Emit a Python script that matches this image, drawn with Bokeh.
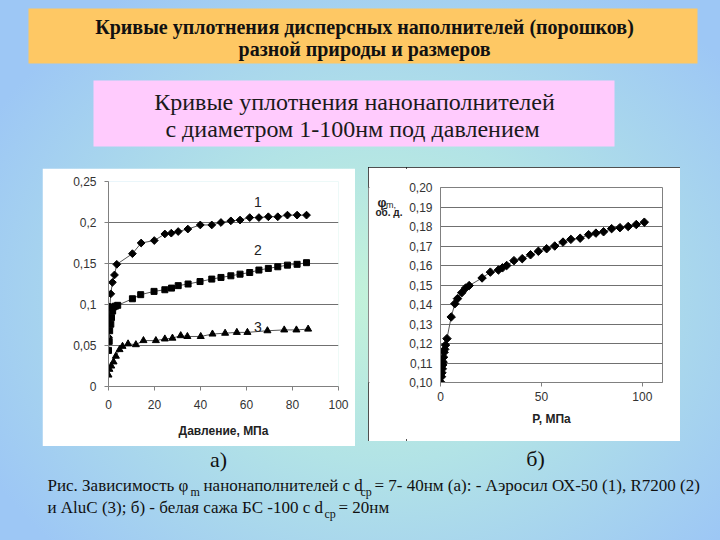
import numpy as np
from bokeh.plotting import figure
from bokeh.models import Range1d, FixedTicker, Spacer, Label, CustomJSTickFormatter
from bokeh.layouts import column, row
from bokeh.embed import file_html
from bokeh.resources import INLINE
from bokeh.core.properties import value

# ---------------- data: chart a) ----------------
a_xticks = [0, 20, 40, 60, 80, 100]
a_yticks = [0, 0.05, 0.1, 0.15, 0.2, 0.25]
a1_x = [0.0, 0.3, 0.6, 1.0, 1.7, 2.6, 3.6, 10.4, 14.2, 19.9, 24.5, 27.3, 30.3, 34.5,
        39.9, 44.9, 48.9, 53.2, 57.2, 61.4, 65.4, 69.5, 73.6, 77.8, 82.0, 86.1]
a1_y = [0.060, 0.078, 0.097, 0.113, 0.127, 0.136, 0.149, 0.162, 0.175, 0.178, 0.186,
        0.187, 0.189, 0.192, 0.197, 0.197, 0.200, 0.202, 0.203, 0.206, 0.206, 0.207,
        0.207, 0.209, 0.209, 0.209]
a2_x = [0.0, 0.3, 0.5, 1.0, 1.3, 1.8, 2.2, 3.0, 4.0, 10.4, 14.0, 19.8, 24.5, 27.4,
        30.3, 34.6, 39.8, 44.9, 48.9, 53.2, 57.2, 61.4, 65.4, 69.5, 73.6, 77.8, 82.0, 86.1]
a2_y = [0.044, 0.055, 0.068, 0.076, 0.084, 0.092, 0.097, 0.098, 0.099, 0.107, 0.112,
        0.116, 0.118, 0.120, 0.123, 0.125, 0.128, 0.131, 0.133, 0.135, 0.137, 0.139,
        0.142, 0.144, 0.146, 0.148, 0.149, 0.151]
a3_x = [0.0, 0.4, 1.2, 2.2, 3.2, 4.8, 6.1, 8.5, 11.9, 15.2, 20.6, 24.5, 27.8, 31.4,
        34.3, 40.1, 45.2, 50.7, 55.8, 60.4, 69.1, 76.4, 81.7, 86.8]
a3_y = [0.014, 0.021, 0.025, 0.030, 0.037, 0.045, 0.049, 0.052, 0.051, 0.056, 0.056,
        0.058, 0.059, 0.062, 0.061, 0.061, 0.064, 0.065, 0.066, 0.066, 0.068, 0.069,
        0.069, 0.070]
a_series_names = ["1", "2", "3"]

# ---------------- data: chart б) ----------------
b_xticks = [0, 50, 100]
b_yticks = [0.10, 0.11, 0.12, 0.13, 0.14, 0.15, 0.16, 0.17, 0.18, 0.19, 0.20]
b_x = [0, 0.5, 0.7, 0.9, 1.1, 1.3, 1.5, 1.8, 2.1, 2.5, 3.2, 5.3, 7.1, 8.4, 10.5, 12.4,
       14.2, 20.6, 24.7, 28.7, 30.7, 32.8, 36.4, 40.5, 44.6, 48.5, 52.6, 56.6, 60.7,
       64.6, 69.2, 73.4, 77.0, 80.8, 84.8, 88.9, 93.0, 97.0, 101.0]
b_y = [0.1003, 0.1030, 0.1050, 0.1070, 0.1090, 0.1105, 0.1130, 0.1155, 0.1170, 0.1192,
       0.1225, 0.1336, 0.1404, 0.1430, 0.1460, 0.1484, 0.1497, 0.1536, 0.1566, 0.1577,
       0.1588, 0.1600, 0.1625, 0.1635, 0.1655, 0.1673, 0.1686, 0.1700, 0.1720, 0.1734,
       0.1740, 0.1758, 0.1766, 0.1773, 0.1789, 0.1794, 0.1800, 0.1810, 0.1822]

# ---------------- texts ----------------
title1 = "Кривые уплотнения дисперсных наполнителей (порошков)"
title2 = "разной природы и размеров"
sub1 = "Кривые уплотнения нанонаполнителей"
sub2 = "с диаметром 1-100нм под давлением"

SANS = "Liberation Sans"
SERIF = "Liberation Serif"
AX = "#808080"


def blank(w, h, x0, x1, y0, y1, fill=None):
    p = figure(width=w, height=h, x_range=Range1d(x0, x1), y_range=Range1d(y1, y0),
               output_backend="svg", toolbar_location=None,
               x_axis_type=None, y_axis_type=None, min_border=0)
    p.grid.visible = False
    p.outline_line_color = None
    if fill is None:
        p.background_fill_alpha = 0
        p.border_fill_alpha = 0
    else:
        p.background_fill_color = fill
        p.border_fill_color = fill
    return p


# ---------------- header ----------------
top = blank(720, 167, 0, 720, 0, 167)
top.quad(left=[28], right=[697], top=[8], bottom=[63], fill_color="#fec864", line_color=None)
top.quad(left=[93], right=[614], top=[80], bottom=[146], fill_color="#ffcbfd", line_color=None)
top.text(x=[364, 364], y=[26, 48], text=[title1, title2], text_align="center",
         text_baseline="middle", text_font=value(SERIF), text_font_style="bold",
         text_font_size="20px", text_color="#111111")
top.text(x=[354, 352], y=[101, 128], text=[sub1, sub2], text_align="center",
         text_baseline="middle", text_font=value(SERIF), text_font_size="24px",
         text_color="#1a1a1a")


def style_axis(ax):
    ax.axis_line_color = AX
    ax.major_tick_line_color = AX
    ax.major_tick_out = 4
    ax.major_tick_in = 0
    ax.minor_tick_line_color = None
    ax.major_label_text_font = SANS
    ax.major_label_text_font_size = "12px"
    ax.major_label_text_color = "#333333"
    ax.axis_label_text_font = SANS
    ax.axis_label_text_font_style = "bold"
    ax.axis_label_text_font_size = "12px"
    ax.axis_label_text_color = "#222222"


# ---------------- chart a ----------------
pa = figure(width=313, height=278, x_range=Range1d(0, 100), y_range=Range1d(0, 0.25),
            output_backend="svg", toolbar_location=None,
            min_border_left=66, min_border_right=17, min_border_top=13, min_border_bottom=60)
pa.background_fill_color = "white"
pa.border_fill_color = "white"
pa.outline_line_color = None
pa.xgrid.visible = False
pa.ygrid.ticker = FixedTicker(ticks=a_yticks[1:-1])
pa.ygrid.grid_line_color = "#707070"
pa.xaxis.ticker = FixedTicker(ticks=a_xticks)
pa.yaxis.ticker = FixedTicker(ticks=a_yticks)
pa.yaxis.formatter = CustomJSTickFormatter(
    code="return String(parseFloat(tick.toFixed(2))).replace('.', ',');")
style_axis(pa.xaxis[0])
style_axis(pa.yaxis[0])
pa.xaxis.axis_label = "Давление, МПа"
pa.xaxis.major_label_standoff = 9
pa.xaxis.axis_label_standoff = 12
pa.yaxis.major_label_standoff = 8

for xs, ys, mk, sz, ang in [(a1_x, a1_y, "square", 5.5, np.pi / 4),
                            (a2_x, a2_y, "square", 6, 0),
                            (a3_x, a3_y, "triangle", 7, 0)]:
    pa.line(xs, ys, line_color="#555555", line_width=1)
    pa.scatter(xs, ys, marker=mk, size=sz, angle=ang, fill_color="black",
               line_color="black")

for name, ys, dy in zip(a_series_names, [a1_y, a2_y, a3_y], [0.0105, 0.0095, -0.0035]):
    pa.add_layout(Label(x=65, y=ys[-1] + dy, text=name, text_font=SANS,
                        text_font_size="14px", text_color="#222222",
                        text_align="center", text_baseline="bottom"))

# ---------------- chart b ----------------
pb_left = blank(38, 274, 368, 406, 167, 441, fill="white")
pb_left.text(x=[377], y=[189], text=["φ"], text_align="left", text_baseline="middle",
             text_font=value(SANS), text_font_style="bold", text_font_size="12.5px",
             text_color="#222222")
pb_left.text(x=[385.5], y=[192], text=["m,"], text_align="left", text_baseline="middle",
             text_font=value(SANS), text_font_size="9px", text_color="#222222")
pb_left.text(x=[375], y=[202], text=["об. д."], text_align="left", text_baseline="middle",
             text_font=value(SANS), text_font_style="bold", text_font_size="10px",
             text_color="#222222")

pb = figure(width=274, height=274, x_range=Range1d(0, 110), y_range=Range1d(0.10, 0.20),
            output_backend="svg", toolbar_location=None,
            min_border_left=34, min_border_right=18, min_border_top=20, min_border_bottom=59)
pb.background_fill_color = "white"
pb.border_fill_color = "white"
pb.outline_line_color = AX
pb.xgrid.visible = False
pb.ygrid.ticker = FixedTicker(ticks=b_yticks)
pb.ygrid.grid_line_color = "#707070"
pb.xaxis.ticker = FixedTicker(ticks=b_xticks)
pb.yaxis.ticker = FixedTicker(ticks=b_yticks)
pb.yaxis.formatter = CustomJSTickFormatter(code="return tick.toFixed(2).replace('.', ',');")
style_axis(pb.xaxis[0])
style_axis(pb.yaxis[0])
pb.yaxis.major_tick_out = 0
pb.xaxis.axis_label = "P, МПа"
pb.xaxis.major_label_standoff = 5
pb.xaxis.axis_label_standoff = 8
pb.yaxis.major_label_standoff = 8
pb.line(b_x, b_y, line_color="#555555", line_width=1)
pb.scatter(b_x, b_y, marker="square", size=6, angle=np.pi / 4, fill_color="black",
           line_color="black")

chart_b = row(pb_left, pb, styles={"outline": "2px solid #151515", "outline-offset": "-2px",
                                   "background": "white"})

# ---------------- footer ----------------
bot = blank(720, 94, 0, 720, 446, 540)
bot.text(x=[218, 535], y=[459, 458], text=["а)", "б)"], text_align="center",
         text_baseline="middle", text_font=value(SERIF), text_font_size="22px",
         text_color="#111111")
seg_main = ["Рис. Зависимость φ", "нанонаполнителей с d",
            "= 7- 40нм (а):  - Аэросил ОХ-50 (1), R7200 (2)",
            "и AluC (3);  б) - белая сажа БС -100 с d", "= 20нм"]
seg_x = [47, 203, 374, 47, 338]
seg_y = [485, 485, 485, 507, 507]
bot.text(x=seg_x, y=seg_y, text=seg_main, text_align="left", text_baseline="middle",
         text_font=value(SERIF), text_font_size="17px", text_color="#111111")
bot.text(x=[190, 360, 324], y=[491, 491, 513], text=["m", "ср", "ср"], text_align="left",
         text_baseline="middle", text_font=value(SERIF), text_font_size="12px",
         text_color="#111111")

layout = column(top,
                row(Spacer(width=42, height=1),
                    column(Spacer(width=313, height=1), pa),
                    Spacer(width=13, height=1),
                    chart_b),
                bot,
                styles={"background": "radial-gradient(ellipse 62% 68% at 53% 55%, #c3f2d9 0%, #b2e3e6 45%, #9dc7f5 100%)"})

open("out.html", "w").write(file_html(layout, INLINE))
